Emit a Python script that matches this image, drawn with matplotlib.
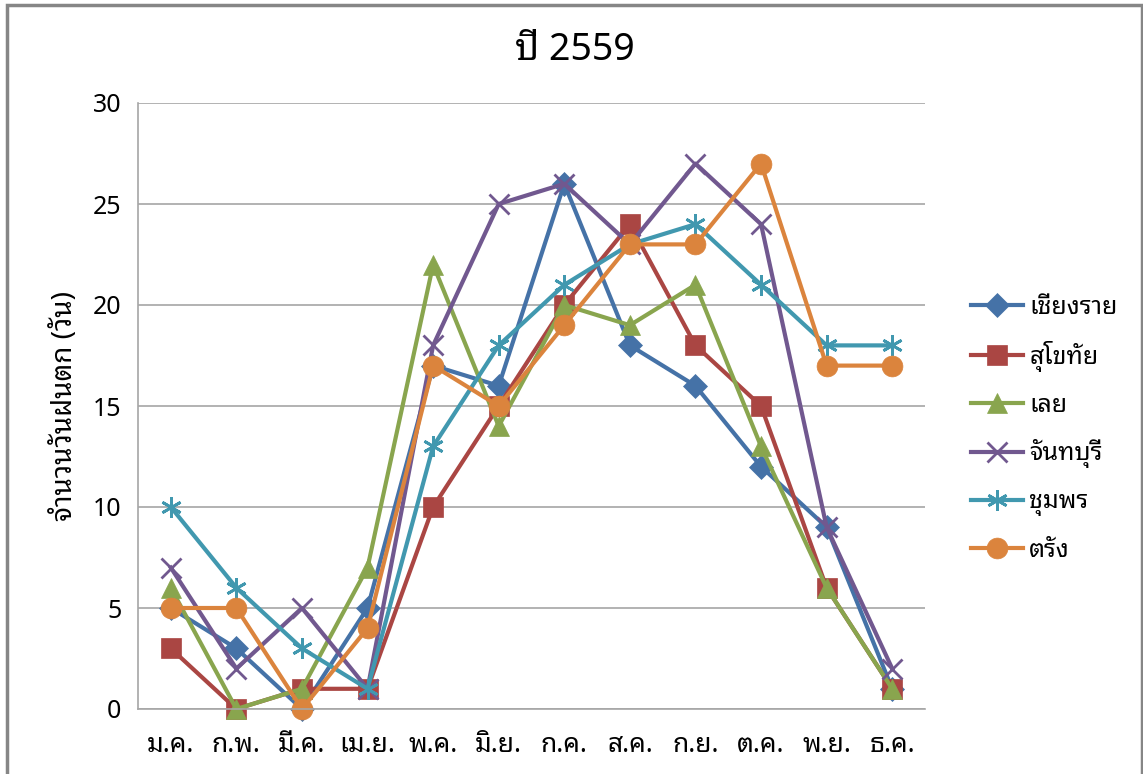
import matplotlib

matplotlib.use("Agg")
import matplotlib.pyplot as plt
from matplotlib.patches import Rectangle

plt.rcParams["font.family"] = ["Noto Sans Thai Looped", "DejaVu Sans"]

months = ["ม.ค.", "ก.พ.", "มี.ค.", "เม.ย.", "พ.ค.", "มิ.ย.",
          "ก.ค.", "ส.ค.", "ก.ย.", "ต.ค.", "พ.ย.", "ธ.ค."]
chiang_rai = [5, 3, 0, 5, 17, 16, 26, 18, 16, 12, 9, 1]
sukhothai = [3, 0, 1, 1, 10, 15, 20, 24, 18, 15, 6, 1]
loei = [6, 0, 1, 7, 22, 14, 20, 19, 21, 13, 6, 1]
chanthaburi = [7, 2, 5, 1, 18, 25, 26, 23, 27, 24, 9, 2]
chumphon = [10, 6, 3, 1, 13, 18, 21, 23, 24, 21, 18, 18]
trang = [5, 5, 0, 4, 17, 15, 19, 23, 23, 27, 17, 17]

series = [
    ("เชียงราย", chiang_rai, "#4572A7", "D", 12),
    ("สุโขทัย", sukhothai, "#AA4643", "s", 14),
    ("เลย", loei, "#89A54E", "^", 15),
    ("จันทบุรี", chanthaburi, "#71588F", "x", 14),
    ("ชุมพร", chumphon, "#4198AF", (6, 2, 0), 15),
    ("ตรัง", trang, "#DB843D", "o", 15),
]

fig = plt.figure(figsize=(11.43, 7.74), dpi=100)
ax = fig.add_axes([138 / 1143, 65 / 774, 787 / 1143, 606 / 774])

x = range(len(months))
for name, values, color, marker, size in series:
    thin = marker == "x" or isinstance(marker, tuple)
    ax.plot(x, values, color=color, linewidth=3, marker=marker,
            markersize=size, markeredgewidth=2 if thin else 0.5,
            markeredgecolor=color, label=name, clip_on=False)

ax.set_xlim(-0.5, len(months) - 0.5)
ax.set_ylim(0, 30)
ax.set_yticks(range(0, 31, 5))
ax.set_xticks(list(x))
ax.set_xticklabels(months)
ax.tick_params(axis="x", length=0, labelsize=19, pad=16)
ax.tick_params(axis="y", length=0, labelsize=18, pad=12)
ax.grid(axis="y", color="#a6a6a6", linewidth=1.2)
ax.set_axisbelow(True)
for side in ("top", "right"):
    ax.spines[side].set_visible(False)
for side in ("left", "bottom"):
    ax.spines[side].set_color("#a6a6a6")
    ax.spines[side].set_linewidth(1.2)
ax.set_ylabel("จำนวนวันฝนตก (วัน)", fontsize=20, labelpad=10)

fig.text(575 / 1143, 1 - 50 / 774, "ปี 2559", fontsize=27, ha="center", va="center")

ax.legend(loc="upper left", bbox_to_anchor=(948 / 1143, 1 - 272 / 774),
          bbox_transform=fig.transFigure, frameon=False, fontsize=18,
          handlelength=2.1, labelspacing=0.85, handletextpad=0.25)

fig.patches.append(Rectangle((7 / 1143, -0.05), 1135 / 1143, 1.05 - 5 / 774,
                             transform=fig.transFigure, fill=False,
                             edgecolor="#868686", linewidth=2.5))

fig.savefig("out.png", dpi=100)
